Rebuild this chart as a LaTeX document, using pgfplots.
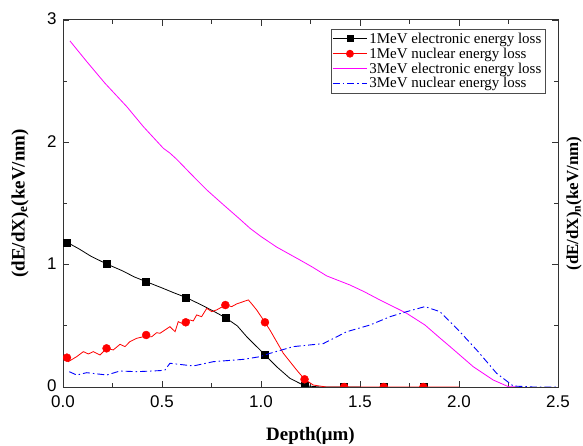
\documentclass[border=0pt]{standalone}
\usepackage{fontspec}
\setmainfont{Liberation Serif}
\setsansfont{Liberation Sans}
\usepackage{pgfplots}
\pgfplotsset{compat=1.18}
\definecolor{mag}{RGB}{255,0,255}
\definecolor{blu}{RGB}{0,0,255}

\begin{document}
\begin{tikzpicture}
\begin{axis}[
    scale only axis,
    width=495bp, height=367bp,
    xmin=0, xmax=2.5, ymin=0, ymax=3,
    xtick={0,0.5,1,1.5,2,2.5}, ytick={0,1,2,3},
    minor x tick num=1, minor y tick num=1,
    tick align=inside,
    major tick length=6bp, minor tick length=4bp,
    every tick/.style={black!80, line width=0.8bp},
    axis line style={black!80, line width=1bp},
    tick label style={font=\sffamily\fontsize{17}{17}\selectfont},
    /pgf/number format/assume math mode=true,
    xticklabel style={yshift=-5bp, /pgf/number format/.cd, fixed, fixed zerofill, precision=1},
    yticklabel style={xshift=-3bp, yshift=1bp},
    clip marker paths=true,
    legend style={at={(0.974,0.975)}, anchor=north east, draw=black!70, line width=0.6bp,
        font=\fontsize{15}{18}\selectfont, inner sep=1.5bp, row sep=-1bp},
    legend cell align=left,
    legend image code/.code={\draw[mark repeat=2,mark phase=2,#1] plot coordinates {(0cm,0cm) (0.6cm,0cm) (1.2cm,0cm)};},
]
% 1 MeV electronic (line)
\addplot[black, line width=0.8bp, forget plot] coordinates {
(0.02,1.183) (0.08,1.13) (0.14,1.07) (0.22,1.006) (0.30,0.95) (0.36,0.90)
(0.42,0.861) (0.50,0.81) (0.56,0.77) (0.62,0.733) (0.70,0.67) (0.76,0.62)
(0.82,0.567) (0.88,0.50) (0.928,0.411) (0.995,0.303) (1.02,0.262) (1.079,0.166)
(1.146,0.071) (1.22,0.01) (1.30,0.0) (1.50,0.0)};
\addplot[only marks, mark=square*, mark size=3.5bp, black, forget plot] coordinates {
(0.02,1.183) (0.22,1.006) (0.42,0.861) (0.62,0.733) (0.82,0.567) (1.02,0.262)
(1.22,0.01) (1.42,0) (1.62,0) (1.82,0)};
% 1 MeV nuclear
\addplot[red, line width=0.8bp, forget plot] coordinates {
(0.002,0.248) (0.027,0.207) (0.069,0.248) (0.103,0.289) (0.128,0.270) (0.153,0.289)
(0.187,0.262) (0.221,0.316) (0.254,0.303) (0.288,0.349) (0.313,0.330) (0.338,0.371)
(0.372,0.398) (0.406,0.411) (0.448,0.411) (0.473,0.444) (0.490,0.439) (0.515,0.466)
(0.540,0.493) (0.566,0.452) (0.582,0.534) (0.608,0.515) (0.641,0.548) (0.658,0.540)
(0.675,0.589) (0.700,0.575) (0.726,0.643) (0.751,0.616) (0.776,0.630) (0.82,0.67)
(0.852,0.657) (0.877,0.679) (0.911,0.698) (0.936,0.712) (0.953,0.680) (0.978,0.630)
(1.02,0.529) (1.045,0.466) (1.113,0.275) (1.18,0.139) (1.22,0.063) (1.264,0.016)
(1.33,0.0) (2.0,0.0)};
\addplot[only marks, mark=*, mark size=4bp, red, forget plot] coordinates {
(0.02,0.24) (0.22,0.316) (0.42,0.425) (0.62,0.529) (0.82,0.67) (1.02,0.529)
(1.22,0.063) (1.42,0) (1.62,0) (1.82,0)};
% 3 MeV electronic
\addplot[mag, line width=0.8bp, forget plot] coordinates {
(0.035,2.829) (0.12,2.66) (0.212,2.483) (0.322,2.292) (0.406,2.128) (0.507,1.951)
(0.540,1.912) (0.574,1.862) (0.65,1.735) (0.726,1.611) (0.81,1.49) (0.894,1.371)
(0.944,1.298) (1.00,1.23) (1.079,1.144) (1.197,1.038) (1.26,0.98) (1.332,0.908)
(1.449,0.834) (1.52,0.78) (1.601,0.711) (1.702,0.63) (1.736,0.602) (1.828,0.507)
(1.904,0.40) (1.955,0.33) (2.072,0.166) (2.173,0.057) (2.249,0.003) (2.30,0.0)};
% 3 MeV nuclear
\addplot[blu, line width=0.9bp, dash pattern=on 7bp off 3bp on 1.5bp off 3bp, forget plot] coordinates {
(0.032,0.125) (0.069,0.098) (0.12,0.117) (0.221,0.098) (0.288,0.131) (0.372,0.125)
(0.49,0.134) (0.515,0.139) (0.540,0.194) (0.658,0.172) (0.759,0.207) (0.911,0.226)
(0.995,0.248) (1.045,0.275) (1.163,0.33) (1.315,0.355) (1.433,0.452) (1.551,0.507)
(1.652,0.575) (1.736,0.616) (1.828,0.657) (1.904,0.616) (1.988,0.48) (2.089,0.303)
(2.19,0.112) (2.274,0.008) (2.375,0.0) (2.5,0.0)};

\addlegendimage{black, line width=0.8bp, mark=square*, mark size=3bp}
\addlegendentry{1MeV electronic energy loss}
\addlegendimage{red, line width=0.8bp, mark=*, mark size=3.5bp}
\addlegendentry{1MeV nuclear energy loss}
\addlegendimage{mag, line width=0.8bp}
\addlegendentry{3MeV electronic energy loss}
\addlegendimage{blu, line width=0.9bp, dash pattern=on 7bp off 3bp on 1.5bp off 3bp}
\addlegendentry{3MeV nuclear energy loss}
\end{axis}
\node[rotate=90, font=\bfseries\fontsize{19}{19}\selectfont] at ([xshift=-43bp]current axis.west) {(dE/dX)\textsubscript{e}(keV/nm)};
\node[rotate=90, font=\bfseries\fontsize{17}{17}\selectfont] at ([xshift=16bp]current axis.east) {(dE/dX)\textsubscript{n}(keV/nm)};
\node[font=\bfseries\fontsize{19}{19}\selectfont] at ([yshift=-49bp]current axis.south) {Depth(μm)};
\pgfresetboundingbox
\path ([shift={(-63bp,-59bp)}]current axis.south west) rectangle ([shift={(25bp,20bp)}]current axis.north east);
\end{tikzpicture}
\end{document}
